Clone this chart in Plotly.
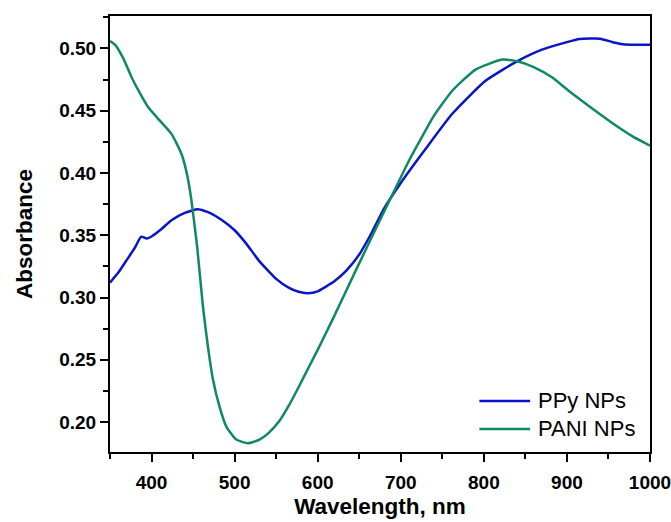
import plotly.graph_objects as go

# PPy NPs spectrum
ppy_nm = [350, 360, 370, 380, 387, 390, 394, 400, 412, 424, 440, 456, 470, 485, 500, 514,
          530, 550, 565, 577, 588, 600, 620, 635, 650, 665, 680, 700, 730, 762, 802, 840,
          870, 900, 915, 940, 955, 970, 1000]
ppy_abs = [0.312, 0.320, 0.330, 0.340, 0.3486, 0.3485, 0.3473, 0.349, 0.355, 0.362, 0.368,
           0.3708, 0.368, 0.362, 0.354, 0.3433, 0.329, 0.315, 0.308, 0.3046, 0.3035, 0.305,
           0.313, 0.322, 0.3345, 0.352, 0.3715, 0.392, 0.4194, 0.4475, 0.474, 0.4896, 0.499,
           0.505, 0.5075, 0.5078, 0.505, 0.5032, 0.503]

# PANI NPs spectrum
pani_nm = [350, 356, 366, 376, 386, 396, 410, 424, 436, 443, 448, 455, 462, 468, 474, 482,
           490, 502, 516, 530, 542, 554, 565, 577, 590, 600, 618, 646, 680, 710, 722, 740,
           762, 790, 822, 840, 860, 882, 902, 930, 962, 980, 1000]
pani_abs = [0.506, 0.503, 0.492, 0.4768, 0.464, 0.4527, 0.442, 0.4314, 0.4154, 0.398, 0.378,
            0.340, 0.292, 0.260, 0.234, 0.212, 0.1964, 0.186, 0.183, 0.186, 0.192, 0.201,
            0.213, 0.228, 0.245, 0.258, 0.2825, 0.322, 0.369, 0.410, 0.4247, 0.446, 0.466,
            0.483, 0.491, 0.4896, 0.485, 0.4768, 0.466, 0.452, 0.4367, 0.429, 0.422]

series_names = ["PPy NPs", "PANI NPs"]
series_colors = ["#0a14c8", "#0e8a5e"]

font = "Arial, Liberation Sans, sans-serif"

fig = go.Figure()
fig.add_trace(go.Scatter(x=ppy_nm, y=ppy_abs, mode="lines", name=series_names[0],
                         line=dict(color=series_colors[0], width=2.5, shape="spline", smoothing=0.5)))
fig.add_trace(go.Scatter(x=pani_nm, y=pani_abs, mode="lines", name=series_names[1],
                         line=dict(color=series_colors[1], width=2.5, shape="spline", smoothing=0.5)))

axis_common = dict(showline=True, linecolor="black", linewidth=2, mirror=True,
                   ticks="outside", ticklen=8, tickwidth=2, tickcolor="black",
                   showgrid=False, zeroline=False, automargin=False, ticklabeloverflow="allow",
                   tickfont=dict(family=font, size=19, color="black", weight="bold"))

fig.update_xaxes(range=[350, 1000], tick0=400, dtick=100, ticklabelstandoff=4,
                 minor=dict(ticks="outside", ticklen=5, tickwidth=2, tickcolor="black", dtick=50, tick0=350),
                 title=dict(text="Wavelength, nm", font=dict(family=font, size=22.5, color="black", weight="bold"),
                            standoff=6),
                 **axis_common)
fig.update_yaxes(range=[0.176, 0.526], tick0=0.2, dtick=0.05, tickformat=".2f",
                 minor=dict(ticks="outside", ticklen=5, tickwidth=2, tickcolor="black", dtick=0.025, tick0=0.2),
                 title=dict(text="Absorbance", font=dict(family=font, size=22.5, color="black", weight="bold"),
                            standoff=20),
                 **axis_common)

# legend drawn inside the lower right corner
leg_y = [0.117, 0.053]
for name, color, yy in zip(series_names, series_colors, leg_y):
    fig.add_shape(type="line", xref="paper", yref="paper", x0=0.684, x1=0.778, y0=yy, y1=yy,
                  line=dict(color=color, width=2.5))
    fig.add_annotation(x=0.789, y=yy, xref="paper", yref="paper", text=name, showarrow=False,
                       xanchor="left", yanchor="middle",
                       font=dict(family=font, size=22, color="black"))

fig.update_layout(
    width=671, height=522,
    margin=dict(l=110, r=21, t=16, b=70),
    plot_bgcolor="white", paper_bgcolor="white",
    showlegend=False,
)

# drop the default page margin so the figure fills the window exactly
fig.write_html("out.html", config={"displayModeBar": False},
               post_script="document.body.style.margin='0';document.body.style.overflow='hidden';")
